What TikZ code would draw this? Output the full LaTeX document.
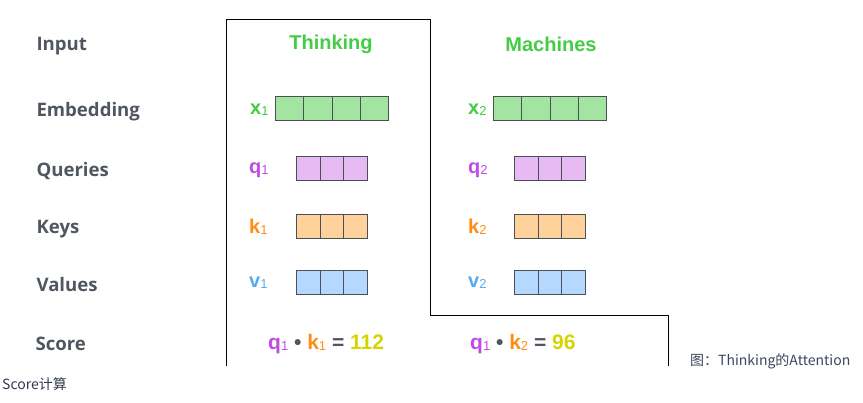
\documentclass[tikz,border=0pt]{standalone}
\usepackage{fontspec}
\setmainfont{Liberation Sans}
\newfontfamily\rowfont{Open Sans}
\newfontfamily\cjkfont{Noto Sans CJK SC}
\usetikzlibrary{positioning}
\definecolor{labelgray}{RGB}{80,86,96}
\definecolor{wordgreen}{RGB}{68,204,68}
\definecolor{qpurple}{RGB}{192,76,228}
\definecolor{korange}{RGB}{255,140,20}
\definecolor{vblue}{RGB}{88,170,240}
\definecolor{sumyellow}{RGB}{212,212,0}
\definecolor{cellline}{RGB}{74,79,88}
\definecolor{embfill}{RGB}{163,228,160}
\definecolor{qfill}{RGB}{232,186,244}
\definecolor{kfill}{RGB}{255,210,155}
\definecolor{vfill}{RGB}{180,216,255}
\definecolor{capgray}{RGB}{60,70,95}
\newcommand\sub[1]{{\mdseries\fontsize{13}{13}\selectfont\raisebox{-1pt}{#1}}}
\tikzset{
  >=latex,
  rowname/.style={anchor=west,text=labelgray,font=\rowfont\bfseries\fontsize{18.6}{18.6}\selectfont},
  word/.style={text=wordgreen,font=\bfseries\fontsize{20}{20}\selectfont},
  vecname/.style={anchor=west,inner sep=0pt,font=\bfseries\fontsize{20}{20}\selectfont},
  scorerow/.style={anchor=west,inner sep=0pt,font=\bfseries\fontsize{21}{21}\selectfont},
  caption/.style={anchor=west,inner sep=0pt,text=capgray,font=\cjkfont\fontsize{14}{14}\selectfont}
}
\tikzset{cell/.style={draw=cellline,line width=1pt,minimum height=24pt,inner sep=0pt,anchor=west}}

\begin{document}
\begin{tikzpicture}[x=1pt,y=-1pt]
  \useasboundingbox (0,0) rectangle (863,403);
  % row names
  \node[rowname] (input) at (33,46) {Input};
  \node[rowname] (embed) at (33,112) {Embedding};
  \node[rowname] (query) at (33,171) {Queries};
  \node[rowname] (key) at (33,229) {Keys};
  \node[rowname] (value) at (33,285) {Values};
  \node[rowname] (score) at (32,344) {Score};
  % frame round the first word
  \draw[line width=1pt] (226,366)--(226,20)--(430,20)--(430,316)--(668,316)--(668,366);
  \node[word] (think) at (331,44) {Thinking};
  \node[word] (mach) at (551,44) {Machines};
  % vector names
  \node[vecname,text=wordgreen] (x1) at (250,110) {x\sub{1}};
  \node[vecname,text=wordgreen] (x2) at (468,110) {x\sub{2}};
  \node[vecname,text=qpurple] (q1) at (249,170) {q\sub{1}};
  \node[vecname,text=qpurple] (q2) at (468,170) {q\sub{2}};
  \node[vecname,text=korange] (k1) at (249,227) {k\sub{1}};
  \node[vecname,text=korange] (k2) at (468,227) {k\sub{2}};
  \node[vecname,text=vblue] (v1) at (249,283) {v\sub{1}};
  \node[vecname,text=vblue] (v2) at (468,283) {v\sub{2}};
  % cells
  \foreach \i in {0,...,3} {
    \node[cell,fill=embfill,minimum width=28.25pt] (xa\i) at (275+28.25*\i,109) {};
    \node[cell,fill=embfill,minimum width=28.25pt] (xb\i) at (493+28.25*\i,109) {};
  }
  \foreach \i in {0,1,2} {
    \node[cell,fill=qfill,minimum width=23.7pt] (qa\i) at (296+23.7*\i,169) {};
    \node[cell,fill=qfill,minimum width=23.7pt] (qb\i) at (514+23.7*\i,169) {};
    \node[cell,fill=kfill,minimum width=23.7pt] (ka\i) at (296+23.7*\i,227) {};
    \node[cell,fill=kfill,minimum width=23.7pt] (kb\i) at (514+23.7*\i,227) {};
    \node[cell,fill=vfill,minimum width=23.7pt] (va\i) at (296+23.7*\i,283) {};
    \node[cell,fill=vfill,minimum width=23.7pt] (vb\i) at (514+23.7*\i,283) {};
  }
  % scores
  \node[scorerow] (sa) at (268,344) {\color{qpurple}q\sub{1} \color{labelgray}\textbullet{} \color{korange}k\sub{1} \color{labelgray}= \color{sumyellow}112};
  \node[scorerow] (sb) at (470,344) {\color{qpurple}q\sub{1} \color{labelgray}\textbullet{} \color{korange}k\sub{2} \color{labelgray}= \color{sumyellow}96};
  % captions
  \node[caption] (capa) at (690,361) {图：Thinking的Attention};
  \node[caption,text=capgray!80!black] (capb) at (2,384) {Score计算};
\end{tikzpicture}
\end{document}
